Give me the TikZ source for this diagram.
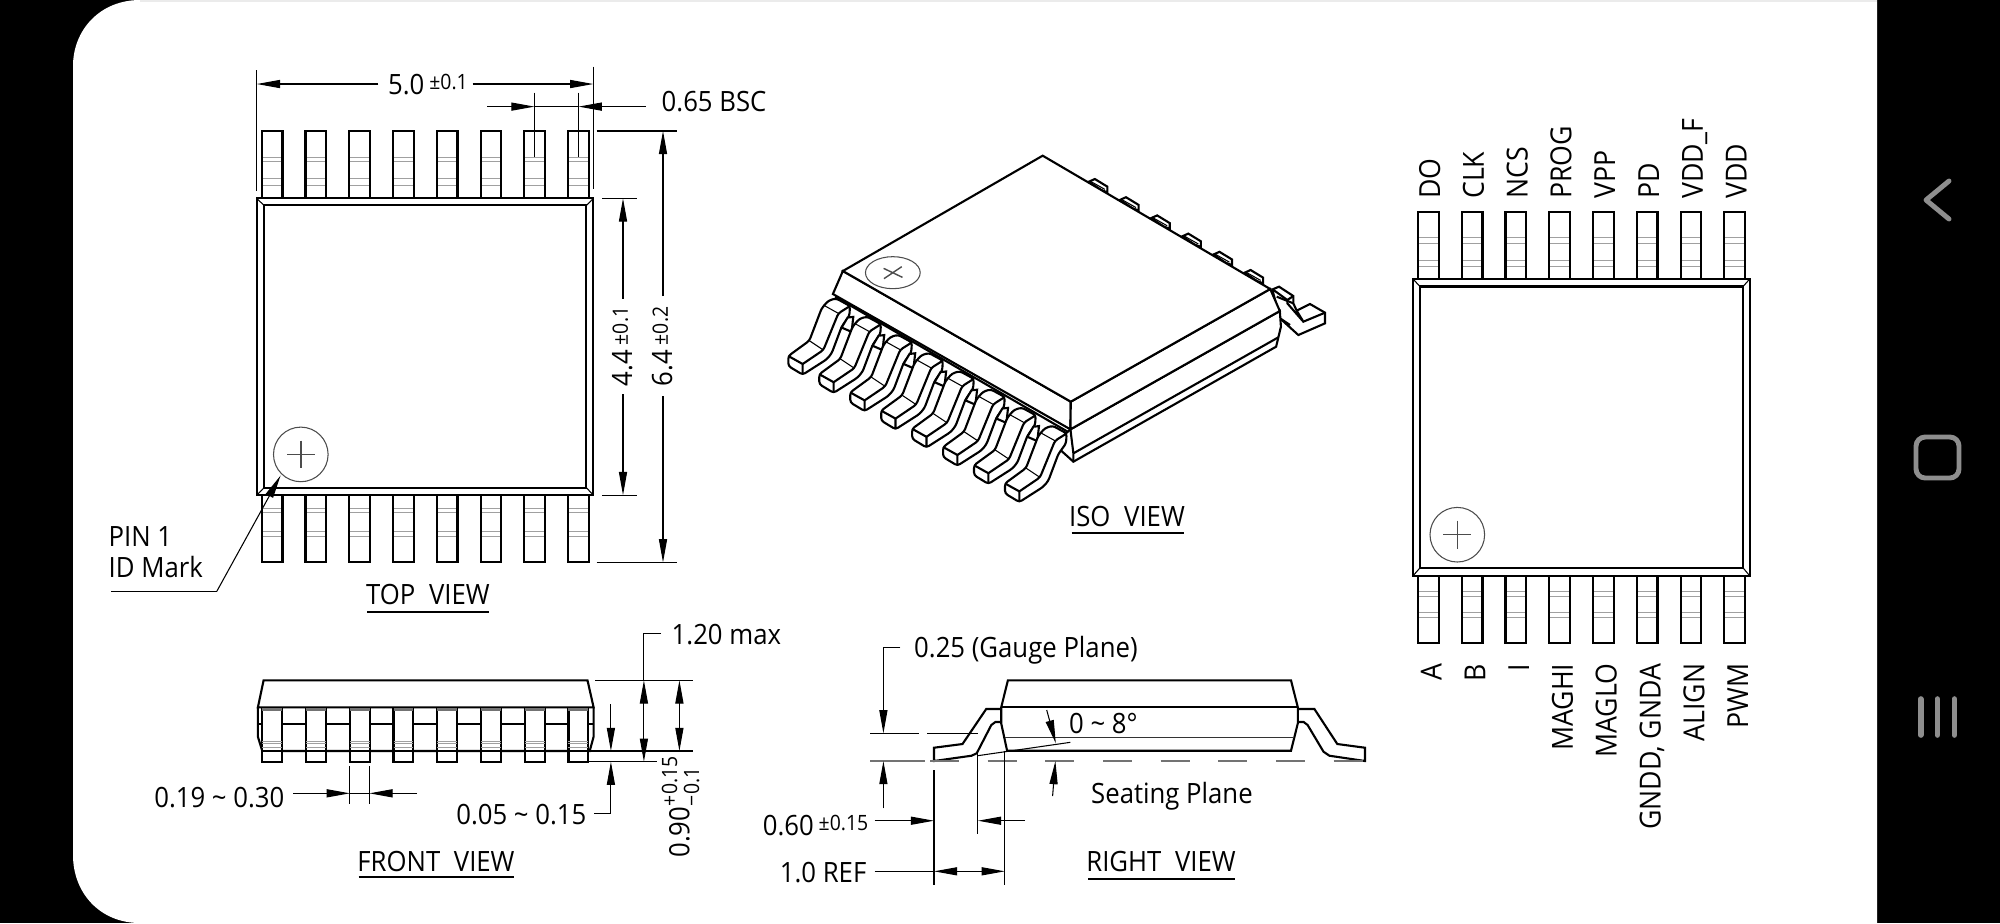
\documentclass[tikz,border=0pt]{standalone}
\usepackage{fontspec}
\setmainfont[FakeStretch=0.92]{Open Sans}
\usetikzlibrary{arrows.meta}
\definecolor{navgrey}{HTML}{8E8E8E}
\definecolor{pinline}{HTML}{A0A0A0}
\newcommand{\bigf}{\fontsize{7.95}{9.4}\selectfont}
\newcommand{\labf}{\fontsize{8.25}{9.4}\selectfont}
\newcommand{\smallf}{\fontsize{6}{7}\selectfont}
\newcommand{\tol}[1]{\hspace{1.4pt}\raisebox{1.2pt}{\smallf #1}}
\tikzset{
  txt/.style={inner sep=0pt,font=\bigf,text=black},
  outl/.style={line width=.6pt,black,line join=miter},
  fillw/.style={outl,fill=white},
  thin dim/.style={line width=.3pt,black},
  pinmark/.style={line width=.25pt,pinline},
  dimtip/.style={-{Triangle[length=6.6pt,width=2.3pt]}},
  dimtips/.style={{Triangle[length=6.6pt,width=2.3pt]}-{Triangle[length=6.6pt,width=2.3pt]}},
  circ/.style={line width=.3pt,black!70},
  uline/.style={line width=.55pt,black},
  nav/.style={line width=1.4pt,navgrey,line cap=round,line join=round}
}
\newcommand{\isopin}{%
  \filldraw[fillw,rounded corners=.8pt] (55,258) -- (118,212) -- (155,115) -- (175,92) -- (198,85) -- (240,108) -- (238,138) -- (215,170) -- (185,250) -- (170,268) -- (98,314) -- (55,288) -- cycle;
  \draw[outl] (55,258) -- (98,282) -- (98,314);
  \draw[outl,rounded corners=.8pt] (98,282) -- (160,240) -- (205,130) -- (240,108);
  \draw[line width=.3pt] (118,212) -- (160,240) (160,105) -- (205,130);
}
\newcommand{\isopiece}{%
  \filldraw[fillw] (157,86) -- (140,88) -- (122,118) -- (152,131) -- cycle;
}
\begin{document}
\begin{tikzpicture}[x=0.01cm,y=-0.01cm]
\useasboundingbox (0,0) rectangle (2000,923);
\fill[black] (0,0) rectangle (2000,923);
\fill[white] (73,923) -- (1877,923) -- (1877,0) -- (140,0) .. controls (100,0) and (73,30) .. (73,66) -- (73,855) .. controls (73,893) and (100,923) .. (140,923) -- cycle;
\fill[black!8] (140,0) rectangle (1877,2);

% nav bar
\draw[nav] (1949,181) -- (1926,200) -- (1949,219);
\draw[nav,rounded corners=2.6pt] (1916,437) rectangle (1959,478);
\foreach \xx in {1920.7,1937.3,1954.3}{\draw[nav,line width=1.6pt] (\xx,699) -- (\xx,735);}

% ---------- TOP VIEW
\foreach \i in {0,...,7}{
  \pgfmathsetmacro{\xa}{261.8+43.75*\i}
  \pgfmathsetmacro{\xb}{\xa+20.7}
  \foreach \yy in {157.3,161.4,178.7,185.8,508.8,512.5,531,536.5}{\draw[pinmark] (\xa,\yy) -- (\xb,\yy);}
  \draw[outl] (\xa,198.4) -- (\xa,131) -- (\xb,131) -- (\xb,198.4);
  \draw[outl] (\xa,495) -- (\xa,562.4) -- (\xb,562.4) -- (\xb,495);
}
\filldraw[fillw] (256.8,198.4) rectangle (593.3,495.1);
\draw[outl] (264,205.4) rectangle (586.4,487.7);
\draw[line width=.3pt] (256.8,198.4) -- (264,205.4) (593.3,198.4) -- (586.4,205.4) (256.8,495.1) -- (264,487.7) (593.3,495.1) -- (586.4,487.7);
\draw[circ] (300.8,454.4) circle (27.3);
\draw[circ,line width=.4pt] (287,454.4) -- (315,454.4) (300.8,440.5) -- (300.8,468.3);

\draw[thin dim] (256.8,70.3) -- (256.8,190.6) (593.3,66.6) -- (593.3,188.7);
\draw[thin dim,dimtip] (378.4,84) -- (256.8,84);
\draw[thin dim,dimtip] (472.6,84) -- (593.3,84);
\node[txt,anchor=base] (w5) at (428,94) {5.0\tol{±0.1}};

\draw[thin dim] (534.5,92.5) -- (534.5,157.3) (578.6,92.5) -- (578.6,157.3) (534.5,106.6) -- (578.6,106.6);
\draw[thin dim,dimtip] (487,106.6) -- (534.5,106.6);
\draw[thin dim,dimtip] (645.7,106.6) -- (578.6,106.6);
\node[txt,anchor=base west] (bsc) at (661,111) {0.65 BSC};

\draw[thin dim] (596.5,131) -- (677,131) (596.5,562.4) -- (677,562.4);
\draw[thin dim,dimtip] (663,296) -- (663,131);
\draw[thin dim,dimtip] (663,396) -- (663,562.4);
\node[txt,anchor=base west,rotate=90] (h64) at (672,387) {6.4\tol{±0.2}};

\draw[thin dim] (602,198.4) -- (637,198.4) (602,495.1) -- (637,495.1);
\draw[thin dim,dimtip] (623,298.6) -- (623,198.4);
\draw[thin dim,dimtip] (623,394) -- (623,495.1);
\node[txt,anchor=base west,rotate=90] (h44) at (632,387) {4.4\tol{±0.1}};

\coordinate (lead) at (216.8,591.3);
\draw[thin dim] (111.2,591.3) -- (lead);
\draw[thin dim,dimtip] (lead) -- (280.6,475.5);
\node[txt,anchor=base west] (pin1) at (108,546.5) {PIN 1};
\node[txt,anchor=base west] (idm) at (108,577.5) {ID Mark};
\node[txt,anchor=base] (topv) at (428,604.5) {TOP\hspace{2pt} VIEW};
\draw[uline] (367.4,612.3) -- (488.6,612.3);

% ---------- FRONT VIEW
\filldraw[fillw] (263.6,680.3) -- (587.5,680.3) -- (593.6,707.3) -- (257.9,707.3) -- cycle;
\draw[outl] (257.9,707.3) -- (257.9,736.7) -- (262.3,751) -- (589.7,751) -- (593.6,736.7) -- (593.6,707.3);
\draw[outl] (257.9,724.3) -- (593.6,724.3);
\foreach \i in {0,...,7}{
  \pgfmathsetmacro{\xa}{262.3+43.74*\i}
  \pgfmathsetmacro{\xb}{\xa+19.9}
  \filldraw[fillw] (\xa,707.7) rectangle (\xb,761.7);
  \fill[black!55] (\xa,708) rectangle (\xb,711);
  \foreach \yy in {741,743.3,747.3}{\draw[pinmark] (\xa,\yy) -- (\xb,\yy);}
  \draw[outl] (\xa,751) -- (\xb,751);
}
\draw[thin dim] (595.3,680.3) -- (692.9,680.3) (576.7,751) -- (692.9,751) (588.8,761.7) -- (656.9,761.7);
\coordinate (maxl) at (643.9,633.3);
\draw[thin dim] (661.2,633.3) -- (maxl) -- (643.9,680.3);
\draw[thin dim,dimtips] (643.9,680.3) -- (643.9,761.7);
\node[txt,anchor=base west] (max) at (671,644) {1.20 max};
\draw[thin dim,dimtips] (679.4,680.3) -- (679.4,751);
\node[txt,anchor=base west,rotate=90] (h90) at (689.4,858.3) {0.90};
\node[txt,font=\smallf,anchor=base west,rotate=90] (h90a) at (677,806.7) {+0.15};
\node[txt,font=\smallf,anchor=base west,rotate=90] (h90b) at (699,806.7) {−0.1};

\draw[thin dim,dimtip] (610.9,704) -- (610.9,751);
\draw[thin dim,dimtip] (594,813.3) -- (610.9,813.3) -- (610.9,761.7);
\node[txt,anchor=base east] (d05) at (587,824.5) {0.05 \textasciitilde{} 0.15};

\draw[thin dim] (349.9,766) -- (349.9,804) (369.4,766) -- (369.4,804) (349.9,793.3) -- (369.4,793.3);
\draw[thin dim,dimtip] (293,793.3) -- (349.9,793.3);
\draw[thin dim,dimtip] (417,793.3) -- (369.4,793.3);
\node[txt,anchor=base east] (d19) at (285,807) {0.19 \textasciitilde{} 0.30};
\node[txt,anchor=base] (frontv) at (436,871.5) {FRONT\hspace{2pt} VIEW};
\draw[uline] (358.5,877) -- (513.8,877);

% ---------- RIGHT VIEW
\draw[outl] (1001.2,709) -- (986.2,709) -- (962.5,744) -- (934,747.7) -- (934,761) -- (971.5,755.7) -- (976.7,753.3) -- (991.3,725) -- (995.3,722) -- (1001.2,722);
\draw[outl] (1297.8,709) -- (1314.4,709) -- (1337.3,744) -- (1365,747.7) -- (1365,761) -- (1329.4,755.7) -- (1323.5,751.7) -- (1307.6,725) -- (1303.7,722) -- (1297.8,722);
\draw[outl] (1007.9,680.3) -- (1291,680.3) -- (1297.8,707.3) -- (1297.8,723.3) -- (1291,750.7) -- (1007.1,750.7) -- (1001.2,723.3) -- (1001.2,707.3) -- cycle;
\draw[outl] (1001.2,707.3) -- (1297.8,707.3);
\draw[line width=.45pt,black!80] (1005,737.3) -- (1294,737.3);
\draw[line width=.35pt,black!55,dash pattern=on 8.2pt off 8.2pt] (930,761) -- (1365,761);
\draw[line width=.35pt,black!55] (870,761) -- (925,761);
\draw[thin dim] (870,733.3) -- (919,733.3) (927,733.3) -- (977.5,733.3);
\draw[thin dim,dimtip] (900.4,647.3) -- (883.4,647.3) -- (883.4,733.3);
\draw[thin dim,dimtip] (883.4,808.3) -- (883.4,761);
\node[txt,anchor=base west] (gauge) at (913.5,657) {0.25 (Gauge Plane)};
\node[txt,anchor=base west] (ang) at (1068.5,733) {0 \textasciitilde{} 8°};
\draw[thin dim,dimtip] (1046.7,710) -- (1055.8,743.3);
\draw[thin dim] (977.5,755.7) -- (1070.4,742.3);
\draw[thin dim,dimtip] (1052.6,796) -- (1055.4,761);
\node[txt,anchor=base west] (seat) at (1090.5,803.5) {Seating Plane};
\draw[thin dim] (934,770) -- (934,885) (977.9,753) -- (977.9,834) (1004.8,750.7) -- (1004.8,885);
\draw[thin dim,dimtip] (874.7,820.7) -- (934,820.7);
\draw[thin dim,dimtip] (1025,820.7) -- (977.9,820.7);
\node[txt,anchor=base east] (d60) at (869,835) {0.60\tol{±0.15}};
\draw[thin dim] (874.7,871.3) -- (934,871.3);
\draw[thin dim,dimtips] (934,871.3) -- (1004.8,871.3);
\node[txt,anchor=base east] (d10) at (867,882) {1.0 REF};
\node[txt,anchor=base] (rightv) at (1161,871.5) {RIGHT\hspace{2pt} VIEW};
\draw[uline] (1088.2,879) -- (1234.5,879);

% ---------- ISO VIEW
\begin{scope}[shift={(770,140)},xscale=0.36996,yscale=0.33333]
  \foreach \i in {0,...,5}{
    \begin{scope}[shift={(84.2*\i,54.6*\i)}]
      \filldraw[fillw] (862,125) -- (878,117) -- (912,140) -- (912,157) -- (895,150) -- cycle;
      \draw[line width=.3pt] (868,125) -- (905,148);
    \end{scope}
  }
\end{scope}
\begin{scope}[shift={(1230,260)},scale=0.33333]
  \filldraw[fillw] (128,88) -- (147,80) -- (190,108) -- (190,130) -- (200,152) -- (240,132) -- (285,158) -- (285,190) -- (205,225) -- (150,175) -- (130,100) -- cycle;
  \draw[outl] (128,88) -- (172,120) -- (190,108) (172,120) -- (172,130) -- (220,185) -- (285,158) (200,152) -- (220,185);
  \draw[outl] (140,110) -- (190,130) (150,175) -- (180,195);
\end{scope}
\begin{scope}[shift={(770,140)},xscale=0.36996,yscale=0.33333]
  \filldraw[fillw] (1378,513) -- (1381,560) -- (1368,620) -- (820,965) -- (780,925) -- (800,880) -- (812,868) -- cycle;
  \draw[outl] (812,868) -- (820,940) -- (820,965) (820,940) -- (1374,592);
\end{scope}
\foreach \i in {0,...,7}{
  \begin{scope}[shift={(770+30.95*\i,270+18.2*\i)},scale=0.33333]
    \ifnum\i>0 \isopiece\fi
    \isopin
  \end{scope}
}
\begin{scope}[shift={(770,140)},xscale=0.36996,yscale=0.33333]
  \filldraw[fillw] (197,393) -- (170,462) -- (812,868) -- (813,785) -- cycle;
  \filldraw[fillw] (813,785) -- (812,868) -- (1378,513) -- (1352,447) -- cycle;
  \draw[outl] (176,470) -- (806,876);
  \filldraw[fillw] (737,47) -- (1352,447) -- (813,785) -- (197,393) -- cycle;
  \draw[circ] (332,398) ellipse (74 and 48);
  \draw[circ,line width=.4pt] (307,385) -- (358,412) (356,380) -- (308,416);
\end{scope}
\node[txt,anchor=base] (isov) at (1127,526.5) {ISO\hspace{2pt} VIEW};
\draw[uline] (1071.5,532.7) -- (1183.6,532.7);

% ---------- PINOUT VIEW
\foreach \i in {0,...,7}{
  \pgfmathsetmacro{\xa}{1418+43.76*\i}
  \pgfmathsetmacro{\xb}{\xa+20.7}
  \foreach \yy in {237.9,243,260.5,266.2,591.4,596,612.6,617.3}{\draw[pinmark] (\xa,\yy) -- (\xb,\yy);}
  \draw[outl] (\xa,279) -- (\xa,212) -- (\xb,212) -- (\xb,279);
  \draw[outl] (\xa,575.8) -- (\xa,643.3) -- (\xb,643.3) -- (\xb,575.8);
}
\filldraw[fillw] (1413,279) rectangle (1749.7,575.8);
\draw[outl] (1420,286.5) rectangle (1743,567.8);
\draw[line width=.3pt] (1413,279) -- (1420,286.5) (1749.7,279) -- (1743,286.5) (1413,575.8) -- (1420,567.8) (1749.7,575.8) -- (1743,567.8);
\draw[circ] (1457.3,534.7) circle (27.3);
\draw[circ,line width=.4pt] (1443,534.7) -- (1471,534.7) (1457.3,520.7) -- (1457.3,548.7);

\foreach \n/\t/\k in {tDO/DO/0,tCLK/CLK/1,tNCS/NCS/2,tPROG/PROG/3,tVPP/VPP/4,tPD/PD/5,tVDDF/VDD\_F/6,tVDD/VDD/7}{
  \node[txt,font=\labf,anchor=base west,rotate=90] (\n) at (1440+43.8*\k,199.5) {\t};
}
\foreach \n/\t/\k in {bA/A/0,bB/B/1,bI/I/2,bHI/MAGHI/3,bLO/MAGLO/4,bGN/{GNDD, GNDA}/5,bAL/ALIGN/6,bPW/PWM/7}{
  \node[txt,font=\labf,anchor=base east,rotate=90] (\n) at (1441.5+43.8*\k,663) {\t};
}
\end{tikzpicture}
\end{document}
